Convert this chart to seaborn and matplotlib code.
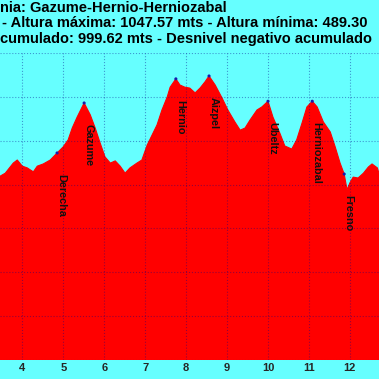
import matplotlib
matplotlib.use("Agg")
import matplotlib.pyplot as plt
import seaborn as sns
import pandas as pd

# ---- data ----
km = [3.456, 3.585, 3.78, 3.878, 4.0, 4.122, 4.27, 4.366, 4.512, 4.683, 4.85,
      5.0, 5.12, 5.22, 5.34, 5.51, 5.66, 5.78, 5.90, 6.02, 6.15, 6.27, 6.39,
      6.51, 6.63, 6.80, 6.92, 7.05, 7.17, 7.29, 7.41, 7.54, 7.61, 7.75, 7.85,
      7.97, 8.09, 8.22, 8.34, 8.46, 8.56, 8.71, 8.88, 9.02, 9.19, 9.32, 9.44,
      9.56, 9.73, 9.85, 10.0, 10.12, 10.29, 10.41, 10.58, 10.70, 10.83, 10.95,
      11.08, 11.20, 11.35, 11.52, 11.64, 11.76, 11.86, 11.93, 12.0, 12.08,
      12.20, 12.33, 12.45, 12.54, 12.67, 12.72]
elev = [819, 826, 849, 856, 842, 838, 829, 842, 847, 856, 872,
        886, 902, 929, 954, 986, 959, 929, 895, 863, 849, 854, 842,
        826, 838, 849, 856, 890, 913, 936, 970, 1000, 1022, 1041, 1027,
        1022, 1020, 1009, 1020, 1034, 1047.57, 1027, 997, 970, 943, 924, 929,
        947, 970, 977, 990, 954, 917, 888, 881, 902, 940, 977,
        990, 977, 943, 920, 886, 849, 824, 788, 804, 817,
        815, 826, 840, 847, 838, 822]

wp_names = ["Derecha", "Gazume", "Hernio", "Aizpel", "Ubeltz", "Herniozabal", "Fresno"]
wp_km = [4.85, 5.51, 7.75, 8.56, 10.0, 11.08, 11.86]
wp_elev = [872, 986, 1041, 1047.57, 990, 990, 824]

xticks = [4, 5, 6, 7, 8, 9, 10, 11, 12]
yticks = [400, 500, 600, 700, 800, 900, 1000, 1100]

title_lines = [
    "nia: Gazume-Hernio-Herniozabal",
    "- Altura máxima: 1047.57 mts - Altura mínima: 489.30",
    "cumulado: 999.62 mts - Desnivel negativo acumulado",
]

# ---- styling ----
sns.set_style("white")
plt.rcParams["font.family"] = ["Liberation Sans", "DejaVu Sans"]

BG = "#66ffff"
RED = "#ff0000"

fig = plt.figure(figsize=(3.79, 3.79), dpi=100, facecolor=BG)
ax = fig.add_axes([0, 1 - 360 / 379, 1, (360 - 53) / 379])
ax.set_facecolor(BG)

df = pd.DataFrame({"km": km, "elev": elev})
ax.fill_between(df["km"], df["elev"], 0, color=RED, lw=0, zorder=1)
sns.lineplot(data=df, x="km", y="elev", ax=ax, color=RED, lw=0.8, zorder=2)

wp = pd.DataFrame({"km": wp_km, "elev": wp_elev, "name": wp_names})
sns.scatterplot(data=wp, x="km", y="elev", ax=ax, marker="o", s=5,
                color="#1a1aaa", edgecolor="none", zorder=4)
for _, r in wp.iterrows():
    ax.annotate(r["name"], (r["km"], r["elev"]), xytext=(-0.5, -15),
                textcoords="offset points", rotation=-90, ha="left", va="top",
                fontsize=7.8, fontweight="bold", color="#111111", zorder=5)

ax.set_xlim(3.456, 12.71)
ax.set_ylim(400, 1100)
ax.set_xticks(xticks)
ax.set_yticks(yticks)
ax.set_xlabel("")
ax.set_ylabel("")
ax.grid(True, color="#00008a", alpha=0.4, ls=":", lw=0.8)
ax.set_axisbelow(False)
ax.tick_params(axis="x", length=0, pad=2, labelsize=8)
ax.tick_params(axis="y", length=0, labelleft=False)
for lab in ax.get_xticklabels():
    lab.set_fontweight("bold")
for s in ax.spines.values():
    s.set_visible(False)

ys = [1 - 12.0 / 379, 1 - 27.2 / 379, 1 - 42.8 / 379]
xs = [0 / 379, 2 / 379, 0 / 379]
for t, x, y in zip(title_lines, xs, ys):
    fig.text(x, y, t, ha="left", va="baseline", fontsize=10.5,
             fontweight="bold", color="black")

fig.savefig("out.png", dpi=100, facecolor=BG)
